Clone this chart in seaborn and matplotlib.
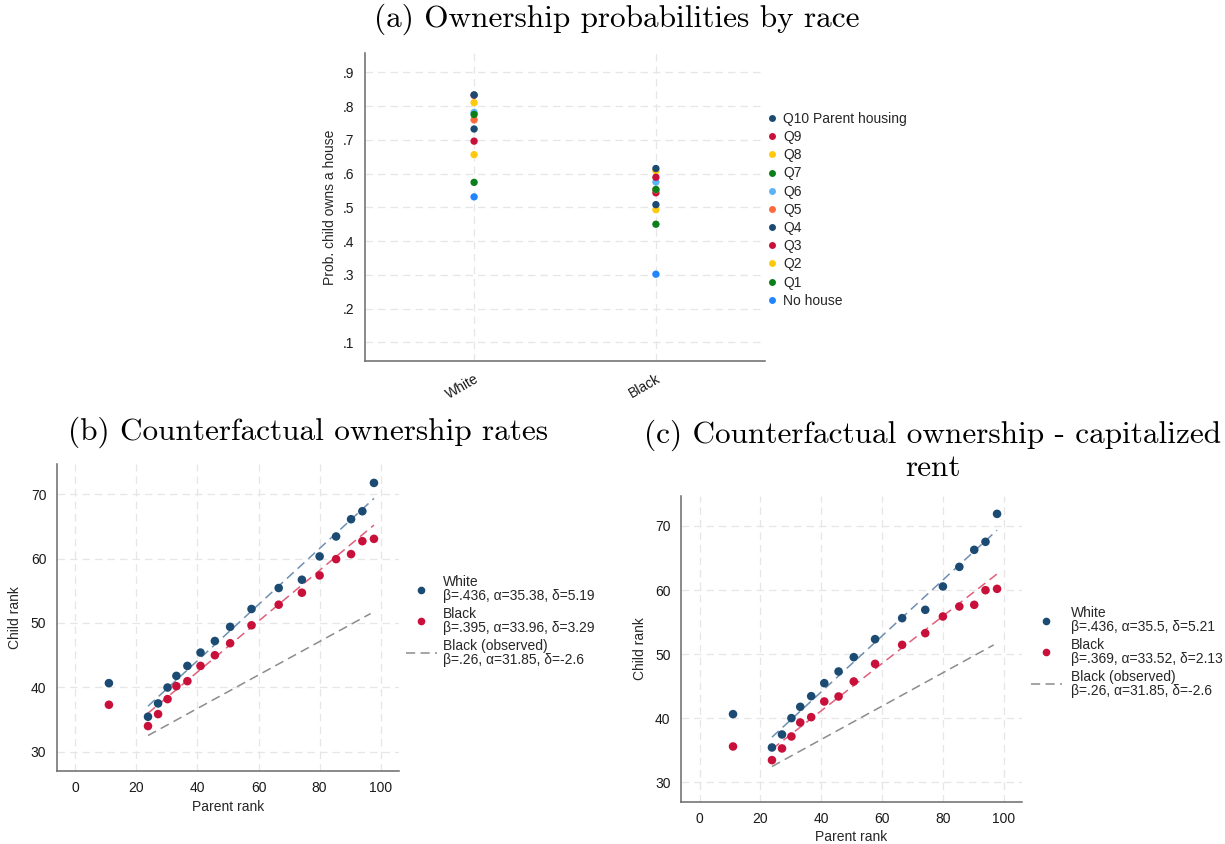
import numpy as np
import pandas as pd
import matplotlib
matplotlib.use("Agg")
import matplotlib.pyplot as plt
from matplotlib.lines import Line2D
import seaborn as sns

# ---------------- data ----------------
races = ["White", "Black"]
groups = ["No house", "Q1", "Q2", "Q3", "Q4", "Q5", "Q6", "Q7", "Q8", "Q9",
          "Q10 Parent housing"]
prob_white = [0.531, 0.574, 0.656, 0.696, 0.732, 0.759, 0.781, 0.775, 0.810, 0.832, 0.833]
prob_black = [0.302, 0.450, 0.493, 0.543, 0.508, 0.552, 0.575, 0.553, 0.608, 0.589, 0.615]
group_colors = ["#2185ff", "#0a7f1a", "#ffc90e", "#c8103a", "#1b4a72", "#ff6a3d",
                "#5ab4f5", "#0a7f1a", "#ffc90e", "#c8103a", "#1b4a72"]

parent_rank = [11.0, 23.8, 27.1, 30.2, 33.1, 36.7, 41.0, 45.7, 50.7, 57.7,
               66.6, 74.2, 80.0, 85.4, 90.3, 94.0, 97.8]
white_b = [40.65, 35.43, 37.50, 39.97, 41.78, 43.33, 45.40, 47.20, 49.40, 52.17,
           55.43, 56.72, 60.34, 63.44, 66.12, 67.36, 71.76]
black_b = [37.29, 33.98, 35.84, 38.17, 40.18, 40.96, 43.33, 44.99, 46.85, 49.64,
           52.84, 54.70, 57.39, 59.92, 60.70, 62.71, 63.07]
white_c = [40.65, 35.45, 37.48, 40.03, 41.79, 43.45, 45.48, 47.30, 49.53, 52.34,
           55.61, 56.91, 60.55, 63.61, 66.26, 67.51, 71.87]
black_c = [35.61, 33.48, 35.30, 37.17, 39.35, 40.18, 42.62, 43.40, 45.74, 48.49,
           51.45, 53.27, 55.87, 57.43, 57.69, 59.97, 60.18]

# fitted lines: slope (beta) and line intercept, plus rank range of each fit
fit_b = {"White": (0.436, 26.70), "Black": (0.395, 26.58), "Black (observed)": (0.26, 26.32)}
fit_c = {"White": (0.436, 26.68), "Black": (0.369, 26.41), "Black (observed)": (0.26, 26.30)}
fit_range = {"White": (23.8, 97.8), "Black": (23.8, 97.8), "Black (observed)": (23.8, 96.7)}

labels_b = ["White\nβ=.436, α=35.38, δ=5.19",
            "Black\nβ=.395, α=33.96, δ=3.29",
            "Black (observed)\nβ=.26, α=31.85, δ=-2.6"]
labels_c = ["White\nβ=.436, α=35.5, δ=5.21",
            "Black\nβ=.369, α=33.52, δ=2.13",
            "Black (observed)\nβ=.26, α=31.85, δ=-2.6"]

titles = ["(a) Ownership probabilities by race",
          "(b) Counterfactual ownership rates",
          "(c) Counterfactual ownership - capitalized\nrent"]

# ---------------- style ----------------
sns.set_theme(style="white")
plt.rcParams["font.family"] = ["Liberation Sans", "DejaVu Sans"]
NAVY, RED = "#1b4a72", "#c8103a"
FIT_COLORS = {"White": "#6f8fb2", "Black": "#e0607a", "Black (observed)": "#8c8c8c"}
GRID = "#e6e6e6"
SPINE = "#6a6a6a"

W, H = 1225, 844
fig = plt.figure(figsize=(W / 100, H / 100), dpi=100)
fig.patch.set_facecolor("white")


def px_axes(x0, y0, x1, y1):
    return fig.add_axes([x0 / W, 1 - y1 / H, (x1 - x0) / W, (y1 - y0) / H])


def style_axes(ax):
    for s in ["top", "right"]:
        ax.spines[s].set_visible(False)
    for s in ["left", "bottom"]:
        ax.spines[s].set_color(SPINE)
        ax.spines[s].set_linewidth(1.1)
    ax.tick_params(direction="out", length=4.5, width=0.9, color=SPINE,
                   labelsize=10, labelcolor="#1a1a1a", pad=3)
    ax.grid(True, color=GRID, linestyle=(0, (6, 4)), linewidth=0.9)
    ax.set_axisbelow(True)


# ---------------- panel (a) ----------------
ax_a = px_axes(365, 53, 765, 361)
style_axes(ax_a)
rows = []
for g, pw, pb in zip(groups, prob_white, prob_black):
    rows.append({"race": 1, "prob": pw, "group": g})
    rows.append({"race": 2, "prob": pb, "group": g})
df_a = pd.DataFrame(rows)
df_a["order"] = df_a["group"].map({g: i for i, g in enumerate(groups)})
df_a = df_a.sort_values(["order", "race"])
sns.scatterplot(data=df_a, x="race", y="prob", hue="group", hue_order=groups,
                palette=dict(zip(groups, group_colors)), s=28, linewidth=0,
                legend=False, ax=ax_a)
ax_a.set_xlim(0.4, 2.6)
ax_a.set_ylim(0.045, 0.957)
ax_a.set_xticks([1, 2])
ax_a.set_xticklabels(races, rotation=30, ha="right", rotation_mode="anchor")
yt = [0.1, 0.2, 0.3, 0.4, 0.5, 0.6, 0.7, 0.8, 0.9]
ax_a.set_yticks(yt)
ax_a.set_yticklabels([f".{int(round(v * 10))}" for v in yt])
ax_a.set_xlabel("")
ax_a.set_ylabel("Prob. child owns a house", fontsize=10, labelpad=4)

handles_a = [Line2D([], [], marker="o", linestyle="none", markersize=5,
                    markerfacecolor=c, markeredgewidth=0)
             for c in group_colors][::-1]
fig.legend(handles_a, groups[::-1], loc="upper left",
           bbox_to_anchor=(768 / W, 1 - 112 / H), frameon=False, fontsize=10,
           handlelength=0.6, handletextpad=0.5, labelspacing=0.3,
           borderaxespad=0, borderpad=0)


# ---------------- panels (b) and (c) ----------------
def rank_panel(box, white, black, fits, labels, legend_xy, text_pad):
    ax = px_axes(*box)
    style_axes(ax)
    pts = pd.DataFrame({
        "parent": parent_rank * 2,
        "child": list(white) + list(black),
        "race": ["White"] * len(parent_rank) + ["Black"] * len(parent_rank),
    })
    line_rows = []
    for name, (beta, icpt) in fits.items():
        lo, hi = fit_range[name]
        for xv in (lo, hi):
            line_rows.append({"parent": xv, "child": icpt + beta * xv, "fit": name})
    lines = pd.DataFrame(line_rows)
    sns.lineplot(data=lines, x="parent", y="child", hue="fit",
                 hue_order=["Black (observed)", "Black", "White"],
                 palette=FIT_COLORS, linewidth=1.1, legend=False, ax=ax,
                 estimator=None, sort=False)
    for ln in ax.get_lines():
        ln.set_dashes((6, 3.5))
    sns.scatterplot(data=pts, x="parent", y="child", hue="race",
                    palette={"White": NAVY, "Black": RED}, s=38, linewidth=0,
                    legend=False, ax=ax, zorder=3)
    ax.set_xlim(-6.1, 106)
    ax.set_ylim(27.0, 74.7)
    ax.set_xticks(range(0, 101, 20))
    ax.set_yticks(range(30, 71, 10))
    ax.set_xlabel("Parent rank", fontsize=10, labelpad=3)
    ax.set_ylabel("Child rank", fontsize=10, labelpad=6)
    hl = [Line2D([], [], marker="o", linestyle="none", markersize=5.5,
                 markerfacecolor=NAVY, markeredgewidth=0),
          Line2D([], [], marker="o", linestyle="none", markersize=5.5,
                 markerfacecolor=RED, markeredgewidth=0),
          Line2D([], [], color=FIT_COLORS["Black (observed)"], linewidth=1.1,
                 dashes=(6, 3.5))]
    leg = fig.legend(hl, labels, loc="upper left",
                     bbox_to_anchor=(legend_xy[0] / W, 1 - legend_xy[1] / H),
                     frameon=False, fontsize=10, handlelength=2.2,
                     handletextpad=text_pad, labelspacing=0.3, borderaxespad=0,
                     borderpad=0)
    for t in leg.get_texts():
        t.set_linespacing(0.98)
    return ax


rank_panel((56.7, 464, 399, 771), white_b, black_b, fit_b, labels_b, (406, 575), 0.45)
rank_panel((681, 495.7, 1022, 801.7), white_c, black_c, fit_c, labels_c, (1031, 606), 0.7)

# ---------------- titles ----------------
TITLE = dict(fontfamily="cmr10", fontsize=22.5, color="black", ha="center", va="center")
fig.text(617 / W, 1 - 19 / H, titles[0], **TITLE)
fig.text(308 / W, 1 - 432 / H, titles[1], **TITLE)
fig.text(933 / W, 1 - 451 / H, titles[2], linespacing=1.15, **TITLE)

fig.savefig("out.png", dpi=100, facecolor="white")
